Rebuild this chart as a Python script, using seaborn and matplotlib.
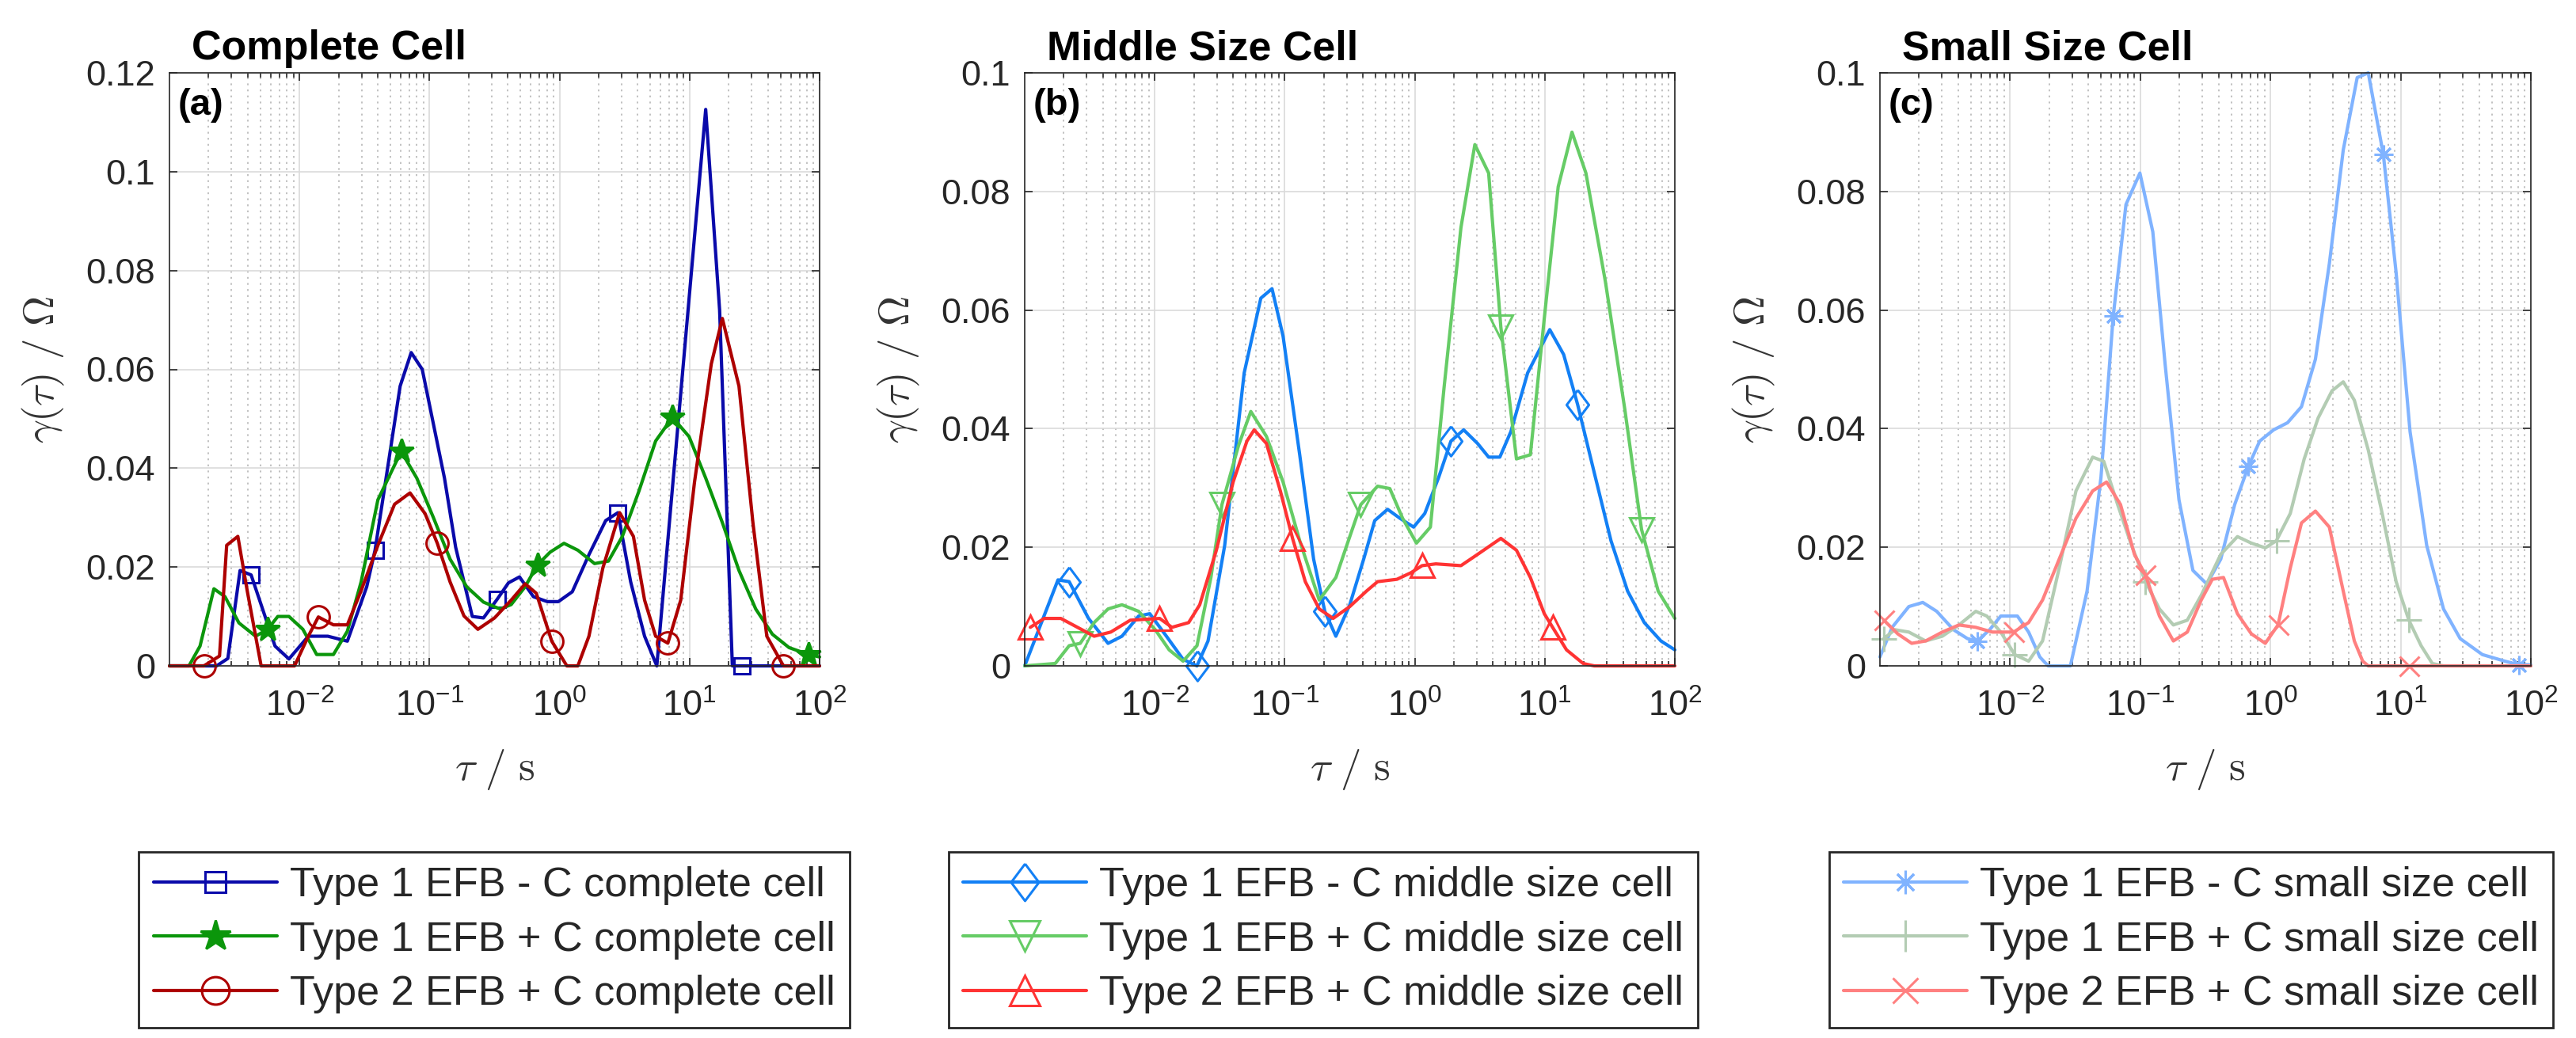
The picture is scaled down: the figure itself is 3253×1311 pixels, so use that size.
import numpy as np
import matplotlib
matplotlib.use("Agg")
import matplotlib.pyplot as plt
import seaborn as sns
from matplotlib.ticker import FuncFormatter, FixedLocator, LogLocator, NullFormatter

# ---- data: log10(tau / s) and gamma(tau) / Ohm ----
# (a) complete cell
a1_lg = [-3.0, -2.637, -2.551, -2.457, -2.372, -2.188, -2.081, -1.932, -1.782, -1.632, -1.483, -1.419,
         -1.226, -1.141, -1.056, -0.885, -0.799, -0.671, -0.585, -0.479, -0.393, -0.308, -0.201, -0.094,
         -0.009, 0.098, 0.226, 0.355, 0.449, 0.547, 0.654, 0.748, 1.124, 1.231, 1.329, 1.402, 2.0]
a1_g = [0, 0, 0.0015, 0.0193, 0.0184, 0.004, 0.0014, 0.006, 0.006, 0.005, 0.016, 0.0234,
        0.0566, 0.0634, 0.060, 0.038, 0.024, 0.010, 0.0097, 0.0135, 0.0168, 0.018, 0.014, 0.013,
        0.013, 0.015, 0.0225, 0.0294, 0.031, 0.017, 0.006, 0.0, 0.1126, 0.072, 0.0, 0.0, 0.0]
a1_mk = [-2.372, -1.419, -0.479, 0.449, 1.402]

a2_lg = [-3.0, -2.850, -2.765, -2.658, -2.573, -2.466, -2.338, -2.244, -2.167, -2.081, -1.974, -1.868,
         -1.739, -1.632, -1.526, -1.397, -1.218, -1.098, -0.970, -0.842, -0.714, -0.585, -0.457, -0.372,
         -0.265, -0.171, -0.073, 0.034, 0.141, 0.269, 0.376, 0.483, 0.611, 0.739, 0.868, 0.996, 1.124,
         1.252, 1.380, 1.509, 1.637, 1.765, 1.915, 2.0]
a2_g = [0, 0, 0.004, 0.0156, 0.014, 0.0087, 0.006, 0.0074, 0.010, 0.010, 0.0074, 0.0023,
        0.0023, 0.007, 0.017, 0.0336, 0.0434, 0.038, 0.030, 0.0216, 0.016, 0.0129, 0.0115, 0.0124,
        0.016, 0.0204, 0.023, 0.0248, 0.0234, 0.0207, 0.0212, 0.0262, 0.0354, 0.0455, 0.0503, 0.0464, 0.038,
        0.029, 0.0193, 0.0115, 0.0064, 0.0037, 0.0023, 0.0018]
a2_mk = [-2.244, -1.218, -0.171, 0.868, 1.915]

a3_lg = [-3.0, -2.735, -2.615, -2.560, -2.474, -2.402, -2.295, -2.038, -1.932, -1.855, -1.739, -1.632,
         -1.526, -1.397, -1.269, -1.150, -1.034, -0.940, -0.842, -0.735, -0.628, -0.500, -0.372, -0.265,
         -0.179, -0.060, 0.056, 0.141, 0.226, 0.333, 0.462, 0.568, 0.654, 0.739, 0.833, 0.932, 1.038,
         1.167, 1.252, 1.380, 1.487, 1.594, 1.722, 2.0]
a3_g = [0, 0, 0.002, 0.0244, 0.0262, 0.0152, 0, 0, 0.006, 0.0099, 0.0083, 0.0083,
        0.0152, 0.0244, 0.0327, 0.035, 0.0308, 0.0248, 0.017, 0.0101, 0.0074, 0.0097, 0.0133, 0.0166,
        0.0147, 0.005, 0, 0, 0.006, 0.0198, 0.031, 0.0262, 0.0133, 0.006, 0.0046, 0.0133, 0.0372,
        0.0611, 0.0703, 0.0566, 0.029, 0.006, 0, 0]
a3_mk = [-2.735, -1.855, -0.940, -0.060, 0.833, 1.722]

# (b) middle size cell
b1_lg = [-3.0, -2.744, -2.658, -2.509, -2.359, -2.252, -2.124, -2.038, -1.910, -1.782, -1.675, -1.590,
         -1.462, -1.312, -1.184, -1.098, -1.013, -0.885, -0.778, -0.692, -0.607, -0.500, -0.393, -0.308,
         -0.209, -0.115, -0.009, 0.077, 0.184, 0.278, 0.376, 0.483, 0.568, 0.654, 0.739, 0.868, 1.038,
         1.145, 1.252, 1.380, 1.509, 1.637, 1.765, 1.893, 2.0]
b1_g = [0, 0.0145, 0.0142, 0.008, 0.0038, 0.005, 0.0084, 0.0088, 0.005, 0.0011, 0, 0.0042,
        0.0203, 0.0494, 0.062, 0.0636, 0.0556, 0.0356, 0.018, 0.0092, 0.005, 0.0103, 0.018, 0.0245,
        0.0264, 0.0249, 0.0234, 0.0257, 0.0318, 0.0379, 0.0398, 0.0375, 0.0352, 0.0352, 0.0395, 0.0494, 0.0567,
        0.0525, 0.0441, 0.0326, 0.0211, 0.0126, 0.0073, 0.0042, 0.0027]
b1_mk = [-2.658, -1.675, -0.692, 0.278, 1.252]

b2_lg = [-3.0, -2.765, -2.658, -2.573, -2.466, -2.359, -2.252, -2.124, -1.996, -1.889, -1.782, -1.675,
         -1.568, -1.483, -1.355, -1.261, -1.141, -1.013, -0.885, -0.735, -0.607, -0.500, -0.415, -0.286,
         -0.192, -0.094, 0.013, 0.120, 0.226, 0.355, 0.462, 0.568, 0.662, 0.782, 0.889, 0.996, 1.103,
         1.209, 1.316, 1.466, 1.615, 1.744, 1.872, 2.0]
b2_g = [0, 0.0004, 0.0034, 0.0038, 0.0073, 0.0096, 0.0103, 0.0092, 0.0061, 0.0027, 0.0008, 0.0034,
        0.0149, 0.0272, 0.0372, 0.0429, 0.0387, 0.031, 0.0211, 0.0111, 0.0149, 0.0218, 0.0272, 0.0303,
        0.0299, 0.0249, 0.0207, 0.0234, 0.0471, 0.0739, 0.0879, 0.0831, 0.0571, 0.0349, 0.0356, 0.0586, 0.0808,
        0.090, 0.0831, 0.0648, 0.0433, 0.023, 0.0126, 0.008]
b2_mk = [-2.573, -1.483, -0.415, 0.662, 1.744]

b3_lg = [-2.957, -2.850, -2.722, -2.594, -2.466, -2.338, -2.188, -1.962, -1.868, -1.739, -1.654, -1.526,
         -1.397, -1.291, -1.235, -1.141, -1.034, -0.940, -0.842, -0.735, -0.628, -0.500, -0.372, -0.286,
         -0.137, -0.030, 0.056, 0.162, 0.355, 0.483, 0.662, 0.782, 0.889, 0.996, 1.060, 1.167, 1.295,
         1.380, 2.0]
b3_g = [0.0065, 0.008, 0.008, 0.0065, 0.005, 0.0057, 0.0077, 0.008, 0.0065, 0.0073, 0.0103, 0.0195,
        0.031, 0.0379, 0.0398, 0.0375, 0.0295, 0.0215, 0.0142, 0.0096, 0.008, 0.01, 0.0126, 0.0142,
        0.0146, 0.0157, 0.0169, 0.0172, 0.0169, 0.0188, 0.0215, 0.0195, 0.0149, 0.0088, 0.0065, 0.0027, 0.0004,
        0, 0]
b3_mk = [-2.957, -1.962, -0.940, 0.056, 1.060]

# (c) small size cell
c1_lg = [-3.0, -2.906, -2.778, -2.671, -2.564, -2.435, -2.328, -2.251, -2.157, -2.072, -1.944, -1.858,
         -1.772, -1.708, -1.537, -1.409, -1.302, -1.208, -1.110, -1.003, -0.904, -0.810, -0.703, -0.596,
         -0.489, -0.382, -0.275, -0.169, -0.083, 0.024, 0.131, 0.238, 0.345, 0.452, 0.559, 0.666, 0.751,
         0.867, 0.965, 1.072, 1.200, 1.329, 1.457, 1.628, 1.799, 1.906, 2.0]
c1_g = [0.0015, 0.0065, 0.010, 0.0107, 0.0092, 0.0061, 0.0046, 0.0042, 0.0061, 0.0084, 0.0084, 0.0057,
        0.0015, 0, 0, 0.0126, 0.0318, 0.059, 0.0778, 0.0831, 0.0732, 0.051, 0.028, 0.0161,
        0.0138, 0.018, 0.0272, 0.0337, 0.0379, 0.0398, 0.041, 0.0437, 0.0517, 0.0678, 0.087, 0.0992, 0.1,
        0.0862, 0.0663, 0.0395, 0.0203, 0.0096, 0.0046, 0.0019, 0.0008, 0.0002, 0.0002]
c1_mk = [-2.251, -1.208, -0.169, 0.867, 1.906]

c2_lg = [-2.970, -2.885, -2.778, -2.649, -2.521, -2.393, -2.264, -2.179, -2.072, -1.965, -1.858, -1.751,
         -1.623, -1.494, -1.366, -1.281, -1.174, -1.067, -0.960, -0.853, -0.746, -0.639, -0.532, -0.382,
         -0.254, -0.147, -0.040, 0.045, 0.152, 0.259, 0.366, 0.473, 0.559, 0.644, 0.751, 0.858, 0.965,
         1.063, 1.157, 1.243, 1.329, 2.0]
c2_g = [0.0046, 0.0061, 0.0057, 0.0042, 0.005, 0.0069, 0.0092, 0.0084, 0.0057, 0.0019, 0.0008, 0.0042,
        0.0165, 0.0295, 0.0352, 0.0345, 0.0272, 0.0203, 0.0142, 0.0096, 0.0069, 0.0077, 0.0119, 0.0188,
        0.0218, 0.0207, 0.0199, 0.0211, 0.0257, 0.0349, 0.0418, 0.0464, 0.0479, 0.0448, 0.0364, 0.0257, 0.0142,
        0.0077, 0.0034, 0.0004, 0, 0]
c2_mk = [-2.970, -1.965, -0.960, 0.045, 1.063]

c3_lg = [-2.970, -2.863, -2.756, -2.649, -2.521, -2.393, -2.264, -2.136, -1.973, -1.858, -1.751, -1.623,
         -1.494, -1.366, -1.259, -1.152, -1.045, -0.960, -0.853, -0.746, -0.639, -0.532, -0.447, -0.361,
         -0.254, -0.147, -0.040, 0.058, 0.152, 0.238, 0.345, 0.452, 0.559, 0.644, 0.708, 0.751, 1.063, 2.0]
c3_g = [0.0077, 0.0054, 0.0038, 0.0042, 0.0057, 0.0069, 0.0065, 0.0057, 0.0057, 0.0073, 0.0111, 0.018,
        0.0249, 0.0295, 0.031, 0.0272, 0.0188, 0.0153, 0.0084, 0.0042, 0.0057, 0.0111, 0.0146, 0.0149,
        0.0088, 0.0054, 0.0038, 0.0069, 0.0165, 0.0241, 0.0261, 0.0234, 0.0126, 0.0042, 0.0008, 0, 0, 0]
c3_mk = [-2.970, -1.973, -0.960, 0.058, 1.063]

titles = ['Complete Cell', 'Middle Size Cell', 'Small Size Cell']
tags = ['(a)', '(b)', '(c)']
ymax = [0.12, 0.1, 0.1]
yticks = [[0, 0.02, 0.04, 0.06, 0.08, 0.1, 0.12], [0, 0.02, 0.04, 0.06, 0.08, 0.1], [0, 0.02, 0.04, 0.06, 0.08, 0.1]]
xticks = [1e-2, 1e-1, 1e0, 1e1, 1e2]
labels = [['Type 1 EFB - C complete cell', 'Type 1 EFB + C complete cell', 'Type 2 EFB + C complete cell'],
          ['Type 1 EFB - C middle size cell', 'Type 1 EFB + C middle size cell', 'Type 2 EFB + C middle size cell'],
          ['Type 1 EFB - C small size cell', 'Type 1 EFB + C small size cell', 'Type 2 EFB + C small size cell']]

# ---- style ----
sns.set_style("ticks")
plt.rcParams['font.family'] = ['Liberation Sans', 'DejaVu Sans']
plt.rcParams['axes.edgecolor'] = '#262626'
plt.rcParams['xtick.color'] = '#262626'
plt.rcParams['ytick.color'] = '#262626'

colors = [['#0A0AAA', '#0B960B', '#AD0000'],
          ['#1380F5', '#66CC66', '#FF3333'],
          ['#80B3FF', '#B3CCB3', '#FF8080']]
diamond = [(0, 1), (0.75, 0), (0, -1), (-0.75, 0), (0, 1)]
# marker, size (pt), filled
mstyle = [[('s', 14.5, False), ('*', 23, True), ('o', 20, False)],
          [(diamond, 27, False), ('v', 22, False), ('^', 22, False)],
          [((8, 2, 0), 17, False), ('+', 23, False), ('x', 18, False)]]

series = [[(a1_lg, a1_g, a1_mk), (a2_lg, a2_g, a2_mk), (a3_lg, a3_g, a3_mk)],
          [(b1_lg, b1_g, b1_mk), (b2_lg, b2_g, b2_mk), (b3_lg, b3_g, b3_mk)],
          [(c1_lg, c1_g, c1_mk), (c2_lg, c2_g, c2_mk), (c3_lg, c3_g, c3_mk)]]

W, H = 3253, 1311
fig = plt.figure(figsize=(W / 100, H / 100), dpi=100)

# axes boxes in pixels: left, right, top, bottom
boxes = [(214, 1035, 92, 841), (1294, 2115, 92, 841), (2374, 3196, 92, 841)]
leg_cx = [624, 1671, 2767]
leg_top = 1076

for i in range(3):
    l, r, t, b = boxes[i]
    ax = fig.add_axes([l / W, 1 - b / H, (r - l) / W, (b - t) / H])
    ax.set_axisbelow(True)
    handles = []
    for j in range(3):
        lg, g, mk = series[i][j]
        m, ms, filled = mstyle[i][j]
        tau = 10 ** np.array(lg)
        idx = [lg.index(v) for v in mk]
        sns.lineplot(x=tau, y=g, ax=ax, color=colors[i][j], linewidth=3.0,
                     marker=m, markersize=ms, markevery=idx,
                     markerfacecolor=colors[i][j] if filled else 'none',
                     markeredgecolor=colors[i][j], markeredgewidth=2.2,
                     clip_on=False, errorbar=None, sort=False)
        handles.append(ax.get_lines()[-1])

    ax.set_xscale('log')
    ax.set_xlim(1e-3, 1e2)
    ax.set_ylim(0, ymax[i])
    ax.xaxis.set_major_locator(FixedLocator(xticks))
    ax.xaxis.set_minor_locator(LogLocator(base=10, subs=np.arange(2, 10)))
    ax.xaxis.set_minor_formatter(NullFormatter())
    ax.xaxis.set_major_formatter(FuncFormatter(lambda v, p: r'$\mathdefault{10^{%d}}$' % round(np.log10(v))))
    ax.set_yticks(yticks[i])
    ax.yaxis.set_major_formatter(FuncFormatter(lambda v, p: '%g' % v))

    ax.tick_params(which='both', direction='in', top=True, right=True, width=1.2)
    ax.tick_params(which='major', length=7)
    ax.tick_params(which='minor', length=4)
    ax.tick_params(axis='x', which='major', labelsize=32.5, pad=21)
    ax.tick_params(axis='y', which='major', labelsize=32.5, pad=13)
    for s in ax.spines.values():
        s.set_linewidth(1.2)
        s.set_color('#262626')

    ax.grid(True, which='major', color='#DADADA', linewidth=1.2, linestyle='-')
    ax.grid(True, which='minor', axis='x', color='#B0B0B0', linewidth=1.1, linestyle=(0, (1.5, 3.5)))

    ax.set_xlabel(r'$\tau\ /\ \mathrm{s}$', fontsize=38, color='#333333', math_fontfamily='cm')
    ax.set_ylabel(r'$\gamma(\tau)\ /\ \Omega$', fontsize=38, color='#333333', math_fontfamily='cm')
    ax.xaxis.label.set_va('center')
    ax.yaxis.label.set_va('center')
    ax.xaxis.set_label_coords(0.5, (b - 972) / (b - t))
    ax.yaxis.set_label_coords((55 - 214) / (r - l), 0.5)

    ax.text(0.034, 1 + 17 / (b - t), titles[i], transform=ax.transAxes, fontsize=37.5,
            fontweight='bold', color='black', ha='left', va='baseline')
    ax.text(0.0128, 0.929, tags[i], transform=ax.transAxes, fontsize=34,
            fontweight='bold', color='black', ha='left', va='baseline')

    leg = ax.legend(handles, labels[i], loc='upper center',
                    bbox_to_anchor=(leg_cx[i] / W, 1 - leg_top / H), bbox_transform=fig.transFigure,
                    fontsize=37.5, frameon=True, fancybox=False, framealpha=1, edgecolor='#262626',
                    handlelength=3.0, handletextpad=0.3, labelspacing=0.37, borderpad=0.35,
                    borderaxespad=0, markerscale=1.25)
    leg.get_frame().set_linewidth(2.0)

fig.savefig('out.png', dpi=100, facecolor='white')
